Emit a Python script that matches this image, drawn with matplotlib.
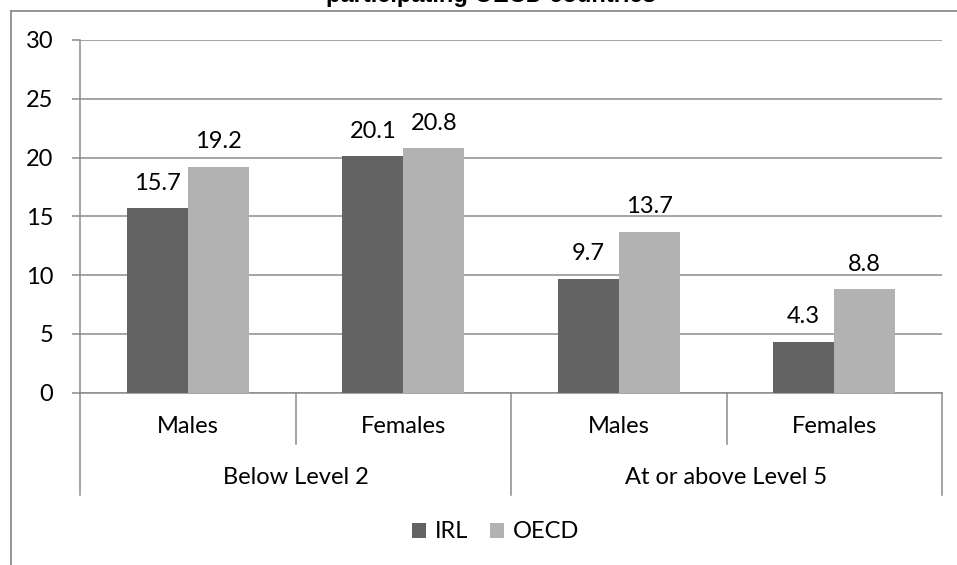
import matplotlib
matplotlib.use("Agg")
import matplotlib.pyplot as plt
from matplotlib.lines import Line2D
from matplotlib.patches import Patch
import matplotlib.transforms as mtransforms

# ---- data ----
subcategories = ["Males", "Females", "Males", "Females"]
groups = ["Below Level 2", "At or above Level 5"]
series_names = ["IRL", "OECD"]
irl_values = [15.7, 20.1, 9.7, 4.3]
oecd_values = [19.2, 20.8, 13.7, 8.8]
y_ticks = [0, 5, 10, 15, 20, 25, 30]
title_text = "participating OECD countries"

# ---- style ----
DARK = "#636363"
LIGHT = "#b2b2b2"
GRID = "#8c8c8c"
FONT = "Lato"
FS = 17

W, H = 957, 565
fig = plt.figure(figsize=(W / 100, H / 100), dpi=100)
fig.patch.set_facecolor("white")

ax_left, ax_right = 80 / W, 942 / W
ax_bottom, ax_top = 1 - 392.5 / H, 1 - 40 / H
ax = fig.add_axes([ax_left, ax_bottom, ax_right - ax_left, ax_top - ax_bottom])

x = list(range(len(subcategories)))
bw = 0.283
ax.bar([i - bw / 2 for i in x], irl_values, width=bw, color=DARK, zorder=3)
ax.bar([i + bw / 2 for i in x], oecd_values, width=bw, color=LIGHT, zorder=3)

for i, v in zip(x, irl_values):
    ax.annotate(f"{v:.1f}", (i - bw / 2, v), xytext=(0, 18), textcoords="offset points",
                ha="center", va="center", fontsize=FS, family=FONT, color="black")
for i, v in zip(x, oecd_values):
    ax.annotate(f"{v:.1f}", (i + bw / 2, v), xytext=(0, 18), textcoords="offset points",
                ha="center", va="center", fontsize=FS, family=FONT, color="black")

ax.set_xlim(-0.5, len(subcategories) - 0.5)
ax.set_ylim(0, 30)
ax.set_yticks(y_ticks)
ax.set_yticklabels([str(t) for t in y_ticks], fontsize=FS, family=FONT)
ax.tick_params(axis="y", direction="out", length=5.8, width=1.1, color=GRID, pad=13.5)
ax.set_xticks([])
ax.yaxis.grid(True, color=GRID, linewidth=1.1, zorder=0)
ax.set_axisbelow(True)
for s in ["top", "right"]:
    ax.spines[s].set_visible(False)
for s in ["left", "bottom"]:
    ax.spines[s].set_color(GRID)
    ax.spines[s].set_linewidth(1.1)

# hierarchical category axis
axh = ax.get_position().height * H
trans = mtransforms.blended_transform_factory(ax.transData, ax.transAxes)
inner_depth = -51 / axh
outer_depth = -102 / axh
for xs in [0.5, 2.5]:
    ax.add_line(Line2D([xs, xs], [0, inner_depth], transform=trans, color=GRID,
                       lw=1.1, clip_on=False))
for xs in [-0.5, 1.5, 3.5]:
    ax.add_line(Line2D([xs, xs], [0, outer_depth], transform=trans, color=GRID,
                       lw=1.1, clip_on=False))
for i, lab in zip(x, subcategories):
    ax.text(i, -34 / axh, lab, transform=trans, ha="center", va="center",
            fontsize=FS, family=FONT)
for gi, lab in enumerate(groups):
    ax.text(gi * 2 + 0.5, -85 / axh, lab, transform=trans, ha="center", va="center",
            fontsize=FS, family=FONT)

# legend
handles = [Patch(facecolor=DARK, edgecolor="none", label=series_names[0]),
           Patch(facecolor=LIGHT, edgecolor="none", label=series_names[1])]
fig.legend(handles=handles, loc="center", bbox_to_anchor=(495.5 / W, 1 - 532 / H),
           ncol=2, frameon=False, prop={"family": FONT, "size": FS},
           handlelength=0.6, handleheight=0.6, handletextpad=0.36, columnspacing=0.95)

# outer chart frame (left and top only visible)
fig.add_artist(Line2D([11 / W, 11 / W], [0, 1 - 11 / H], transform=fig.transFigure,
                      color=GRID, lw=1.3))
fig.add_artist(Line2D([11 / W, 1], [1 - 11 / H, 1 - 11 / H], transform=fig.transFigure,
                      color=GRID, lw=1.3))

# cut-off title (the reference shows only its lower part)
fig.text(491 / W, 1 - 2 / H, title_text, ha="center", va="baseline",
         fontsize=17, fontweight="bold", family="Liberation Sans")

fig.savefig("out.png", dpi=100, facecolor="white")
